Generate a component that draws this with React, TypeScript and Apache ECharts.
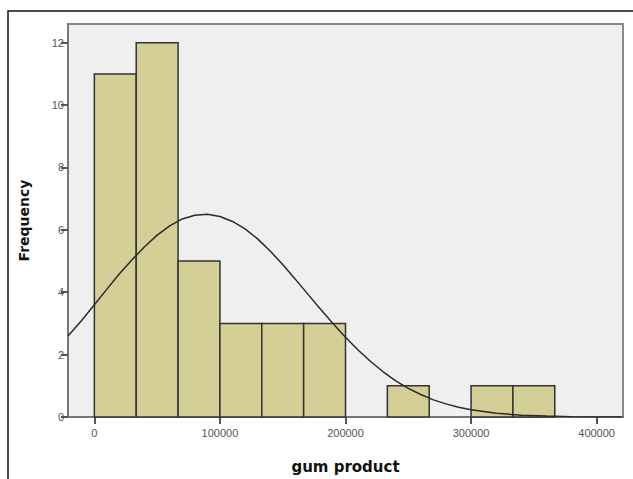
import React, { useEffect, useRef } from "react";
import * as echarts from "echarts";

// Histogram bins (gum product) and frequencies
const binStarts = [0, 33333, 66667, 100000, 133333, 166667, 200000, 233333, 266667, 300000, 333333];
const binEnds = [33333, 66667, 100000, 133333, 166667, 200000, 233333, 266667, 300000, 333333, 366667];
const counts = [11, 12, 5, 3, 3, 3, 0, 1, 0, 1, 1];

// Fitted normal curve
const curveX = [-21000, -10000, 0, 10000, 20000, 30000, 40000, 50000, 60000, 70000, 80000, 90000, 100000, 110000, 120000, 130000, 140000, 150000, 160000, 170000, 180000, 190000, 200000, 210000, 220000, 230000, 240000, 250000, 260000, 270000, 280000, 290000, 300000, 320000, 340000, 360000, 380000, 400000, 420000];
const curveY = [2.6, 3.1, 3.6, 4.1, 4.59, 5.04, 5.46, 5.83, 6.13, 6.35, 6.47, 6.50, 6.43, 6.27, 6.03, 5.71, 5.32, 4.89, 4.42, 3.94, 3.46, 3.00, 2.56, 2.15, 1.78, 1.45, 1.16, 0.92, 0.72, 0.55, 0.42, 0.31, 0.23, 0.12, 0.06, 0.03, 0.01, 0.0, 0.0];

const xTicks = [0, 100000, 200000, 300000, 400000];
const yTicks = [0, 2, 4, 6, 8, 10, 12];

export default function App() {
  const ref = useRef<HTMLDivElement>(null);
  useEffect(() => {
    if (!ref.current) return;
    const chart = echarts.init(ref.current, null, { renderer: "svg" });
    const barData = binStarts.map((s, i) => [s, binEnds[i], counts[i]]);
    chart.setOption({
      animation: false,
      backgroundColor: "#ffffff",
      textStyle: { fontFamily: "Liberation Sans, Arial, sans-serif" },
      graphic: [
        {
          type: "rect",
          shape: { x: 8, y: 11, width: 700, height: 600 },
          style: { fill: "none", stroke: "#111", lineWidth: 1.5 },
          z: 10,
        },
      ],
      grid: {
        left: 68,
        top: 24,
        width: 555,
        height: 399,
        show: true,
        backgroundColor: "#efefef",
        borderColor: "#8a8a8a",
        borderWidth: 2,
      },
      xAxis: {
        type: "value",
        min: -21000,
        max: 421000,
        name: "gum product",
        nameLocation: "middle",
        nameGap: 42,
        nameTextStyle: { fontSize: 15, fontWeight: "bold", color: "#111", fontFamily: "DejaVu Sans, sans-serif" },
        axisLine: { show: true, onZero: false, lineStyle: { color: "#777", width: 2 } },
        axisTick: { show: true, customValues: xTicks, length: 7, lineStyle: { color: "#555", width: 2 } },
        axisLabel: {
          customValues: xTicks,
          color: "#555",
          fontSize: 11,
          margin: 10,
          formatter: (v: number) => String(Math.round(v)),
        },
        splitLine: { show: false },
      },
      yAxis: {
        type: "value",
        min: 0,
        max: 12.6,
        name: "Frequency",
        nameLocation: "middle",
        nameGap: 37,
        nameTextStyle: { fontSize: 14, fontWeight: "bold", color: "#111", fontFamily: "DejaVu Sans, sans-serif" },
        axisLine: { show: true, onZero: false, lineStyle: { color: "#777", width: 2 } },
        axisTick: { show: true, customValues: yTicks, length: 7, lineStyle: { color: "#555", width: 2 } },
        axisLabel: { customValues: yTicks, color: "#555", fontSize: 11, margin: 4 },
        splitLine: { show: false },
      },
      series: [
        {
          type: "custom",
          data: barData,
          renderItem: (params: any, api: any) => {
            const c = api.value(2);
            if (!c) return null;
            const p0 = api.coord([api.value(0), c]);
            const p1 = api.coord([api.value(1), 0]);
            return {
              type: "rect",
              shape: { x: p0[0], y: p0[1], width: p1[0] - p0[0], height: p1[1] - p0[1] },
              style: { fill: "#d4cf97", stroke: "#333", lineWidth: 1.5 },
            };
          },
          encode: { x: [0, 1], y: 2 },
          z: 2,
        },
        {
          type: "line",
          data: curveX.map((x, i) => [x, curveY[i]]),
          smooth: false,
          showSymbol: false,
          lineStyle: { color: "#2a2a2a", width: 1.5 },
          z: 3,
        },
      ],
    });
    return () => chart.dispose();
  }, []);
  return (
    <div
      ref={ref}
      style={{ position: "absolute", left: 0, top: 0, width: 633, height: 479 }}
    />
  );
}
